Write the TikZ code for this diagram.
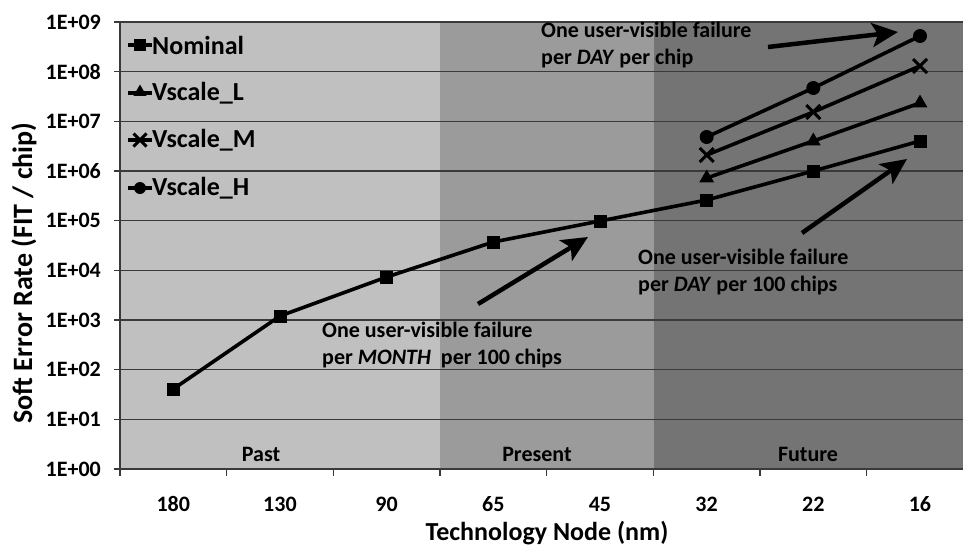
\documentclass[tikz,border=0pt]{standalone}
\usepackage{fontspec}
\setmainfont{Carlito}
\usetikzlibrary{arrows.meta,shapes.geometric,shapes.misc}
\definecolor{pastc}{HTML}{C0C0C0}
\definecolor{presc}{HTML}{9B9B9B}
\definecolor{futc}{HTML}{747474}
\definecolor{gridc}{HTML}{3A3A3A}
\begin{document}
\begin{tikzpicture}[x=1pt,y=-1pt,
  gridln/.style={draw=gridc, line width=1.2pt},
  series/.style={draw=black, line width=3.6pt},
  msq/.style={rectangle, fill=black, minimum size=13pt, inner sep=0pt},
  mtri/.style={regular polygon, regular polygon sides=3, fill=black, minimum size=17pt, inner sep=0pt},
  mcirc/.style={circle, fill=black, minimum size=14pt, inner sep=0pt},
  mx/.style={cross out, draw=black, line width=3pt, minimum size=11pt, inner sep=0pt},
  ticklbl/.style={font=\fontsize{22}{26}\selectfont\bfseries, inner sep=0pt},
  legtxt/.style={font=\fontsize{26}{30}\selectfont\bfseries, inner sep=0pt, anchor=west},
  anno/.style={font=\fontsize{22}{27}\selectfont\bfseries, inner sep=0pt, anchor=west, align=left},
  axtitle/.style={font=\fontsize{26}{30}\selectfont\bfseries, inner sep=0pt},
  bigarrow/.style={draw=black, line width=4.5pt, -{Stealth[length=26pt,width=24pt,inset=6pt]}}
]
\useasboundingbox (0,0) rectangle (963,546);
% background regions
\fill[pastc] (120,22) rectangle (440,469);
\fill[presc] (440,22) rectangle (654,469);
\fill[futc] (654,22) rectangle (963,469);
% grid lines and y ticks
\foreach \i in {0,...,9} {
  \draw[gridln] (114,{469-49.667*\i}) -- (963,{469-49.667*\i});
  \node[ticklbl, anchor=east] (yl\i) at (101,{469-49.667*\i}) {1E+0\i};
}
% axes
\draw[gridln] (120,22) -- (120,469);
\foreach \k in {0,...,7} {
  \draw[gridln] ({120+106.667*\k},469) -- ({120+106.667*\k},476);
}
% x labels
\foreach \lab [count=\k from 0] in {180,130,90,65,45,32,22,16} {
  \node[ticklbl] (xl\k) at ({173.3+106.667*\k},504) {\lab};
}
% region labels
\node[ticklbl] (past) at (261,454) {Past};
\node[ticklbl] (present) at (537,454) {Present};
\node[ticklbl] (future) at (808,454) {Future};
% axis titles
\node[axtitle, font=\fontsize{28}{32}\selectfont\bfseries, rotate=90] (ytitle) at (24,273) {Soft Error Rate (FIT / chip)};
\node[axtitle] (xtitle) at (547,533) {Technology Node (nm)};
% data coordinates
\coordinate (n1) at (173.3,389);
\coordinate (n2) at (280,316);
\coordinate (n3) at (386.7,277);
\coordinate (n4) at (493.3,242);
\coordinate (n5) at (600,221);
\coordinate (n6) at (706.7,200);
\coordinate (n7) at (813.3,171);
\coordinate (n8) at (920,141);
\coordinate (l6) at (706.7,178);
\coordinate (l7) at (813.3,141);
\coordinate (l8) at (920,103);
\coordinate (m6) at (706.7,155);
\coordinate (m7) at (813.3,112);
\coordinate (m8) at (920,66);
\coordinate (h6) at (706.7,137);
\coordinate (h7) at (813.3,88);
\coordinate (h8) at (920,36);
% series lines
\draw[series, line join=round] (n1) -- (n2) -- (n3) -- (n4) -- (n5) -- (n6) -- (n7) -- (n8);
\draw[series] (l6) -- (l7) -- (l8);
\draw[series] (m6) -- (m7) -- (m8);
\draw[series] (h6) -- (h7) -- (h8);
% markers
\foreach \p in {n1,n2,n3,n4,n5,n6,n7,n8} { \node[msq] (s\p) at (\p) {}; }
\foreach \p in {l6,l7,l8} { \node[mtri] (s\p) at (\p) {}; }
\foreach \p in {m6,m7,m8} { \node[mx] (s\p) at (\p) {}; }
\foreach \p in {h6,h7,h8} { \node[mcirc] (s\p) at (\p) {}; }
% legend
\coordinate (lga) at (128,45); \coordinate (lgb) at (152,45);
\draw[series] (lga) -- (lgb); \node[msq, minimum size=12pt] (lgsq) at (140,45) {};
\node[legtxt] (lgt1) at (152,45) {Nominal};
\coordinate (lgc) at (128,93); \coordinate (lgd) at (152,93);
\draw[series] (lgc) -- (lgd); \node[mtri, minimum size=15pt] (lgtri) at (140,92) {};
\node[legtxt] (lgt2) at (152,93) {Vscale\_L};
\coordinate (lge) at (128,140); \coordinate (lgf) at (152,140);
\draw[series] (lge) -- (lgf); \node[mx, minimum size=10pt] (lgx) at (140,140) {};
\node[legtxt] (lgt3) at (152,140) {Vscale\_M};
\coordinate (lgg) at (128,188); \coordinate (lgh) at (152,188);
\draw[series] (lgg) -- (lgh); \node[mcirc, minimum size=12pt] (lgc4) at (140,188) {};
\node[legtxt] (lgt4) at (152,188) {Vscale\_H};
% annotations
\node[anno] (a1) at (541,45.5) {One user-visible failure\\per \textit{DAY} per chip};
\node[anno] (a2) at (638,272) {One user-visible failure\\per \textit{DAY} per 100 chips};
\node[anno] (a3) at (322,345) {One user-visible failure\\per \textit{MONTH}\ \ per 100 chips};
% arrows
\coordinate (ar1s) at (768,47); \coordinate (ar1e) at (898,32);
\coordinate (ar2s) at (478,304); \coordinate (ar2e) at (588,237);
\coordinate (ar3s) at (802,233); \coordinate (ar3e) at (907,159);
\draw[bigarrow] (ar1s) -- (ar1e);
\draw[bigarrow] (ar2s) -- (ar2e);
\draw[bigarrow] (ar3s) -- (ar3e);
\end{tikzpicture}
\end{document}
